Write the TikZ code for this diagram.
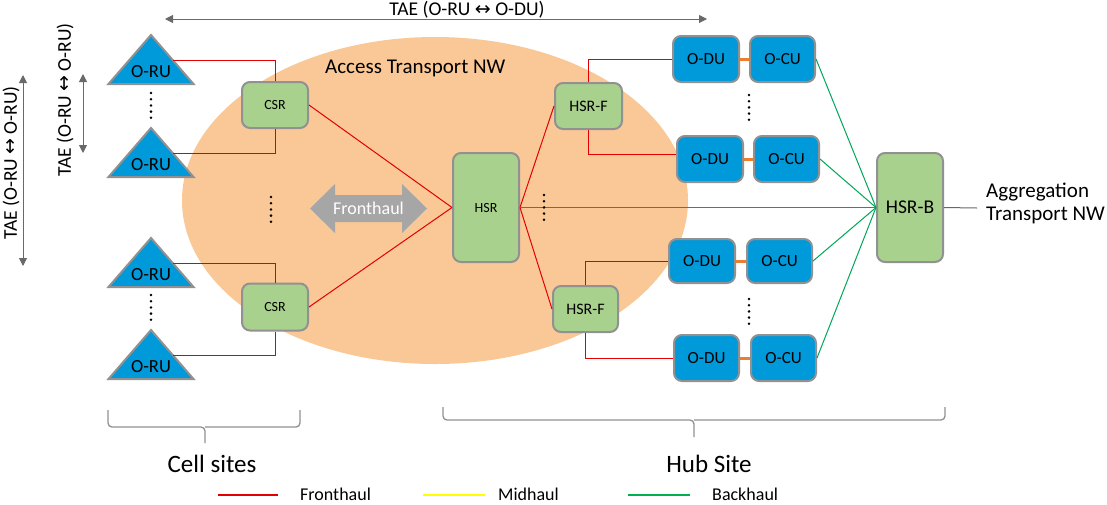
\documentclass[tikz,border=0pt]{standalone}
\usepackage{fontspec}
\setmainfont{Carlito}
\newfontfamily\symf{DejaVu Sans}
\usetikzlibrary{arrows.meta,calc}
\definecolor{oblue}{RGB}{0,153,218}
\definecolor{boxgreen}{RGB}{169,209,142}
\definecolor{bordergray}{RGB}{145,145,145}
\definecolor{peach}{RGB}{250,200,150}
\definecolor{fhred}{RGB}{228,0,0}
\definecolor{bhgreen}{RGB}{0,166,90}
\definecolor{mhorange}{RGB}{237,125,49}
\definecolor{arrgray}{RGB}{105,105,105}
\definecolor{bigarr}{RGB}{166,166,166}
\definecolor{legyellow}{RGB}{255,255,0}
\definecolor{leggreen}{RGB}{0,176,80}
\newcommand{\fs}[1]{\fontsize{#1}{#1}\selectfont}
\begin{document}
\begin{tikzpicture}[x=1pt,y=-1pt,
  box/.style 2 args={draw=bordergray, line width=2pt, rounded corners=8pt, fill=boxgreen,
    inner sep=0pt, minimum width=#1pt, minimum height=#2pt},
  bbox/.style 2 args={box={#1}{#2}, fill=oblue},
  tri/.style={draw=bordergray, line width=2pt, fill=oblue, line join=miter},
  oru/.style={font=\fs{18.5}, inner sep=0pt},
  fh/.style={draw=fhred, line width=1pt},
  bh/.style={draw=bhgreen, line width=1pt},
  mh/.style={draw=mhorange, line width=3pt},
  garr/.style={draw=arrgray, line width=1pt, {Triangle[length=8pt,width=8pt]}-{Triangle[length=8pt,width=8pt]}},
  brace/.style={draw=bordergray, line width=1.3pt, rounded corners=4pt},
  lbl/.style={inner sep=0pt}
]
\useasboundingbox[fill=white] (0,0) rectangle (1107,504);

% access transport ellipse
\fill[peach] (435,200.5) ellipse [x radius=253, y radius=163.5];
\node[lbl, font=\fs{21}, anchor=west] (acc) at (325,68) {Access Transport NW};

% top TAE arrow
\coordinate (ta1) at (165,19);
\coordinate (ta2) at (707,19);
\draw[garr] (ta1) -- (ta2);
\node[lbl, font=\fs{19.5}, anchor=base] (taetop) at (467,15) {TAE (O-RU {\symf\fs{19}↔} O-DU)};

% vertical TAE arrows
\coordinate (va1) at (23,75);
\coordinate (va2) at (23,266);
\draw[garr] (va1) -- (va2);
\node[lbl, font=\fs{19.5}, rotate=90] (taev1) at (11,163) {TAE (O-RU {\symf\fs{19}↔} O-RU)};
\coordinate (vb1) at (83,74);
\coordinate (vb2) at (83,153);
\draw[garr] (vb1) -- (vb2);
\node[lbl, font=\fs{19.5}, rotate=90] (taev2) at (65,100) {TAE (O-RU {\symf\fs{19}↔} O-RU)};

% O-RU triangles
\foreach \n/\ay in {1/35,2/128,3/238,4/330} {
  \path[tri] (151,\ay) -- ++(42.5,49) -- ++(-85,0) -- cycle;
  \node[oru] (oru\n) at (151,\ay+37) {O-RU};
  \coordinate (oru\n r) at (172.5,\ay+25);
}

% routers
\node[box={66}{46}, font=\fs{14}] (csr1) at (275,105) {CSR};
\node[box={66}{47}, font=\fs{14}] (csr2) at (275,307) {CSR};
\node[box={66}{109}, font=\fs{14}] (hsr) at (486,207.5) {HSR};
\node[box={67}{46}, font=\fs{16}] (hsrf1) at (588.5,106) {HSR-F};
\node[box={65}{46}, font=\fs{16}] (hsrf2) at (585.5,309) {HSR-F};
\node[box={66}{109}, font=\fs{19.5}] (hsrb) at (910,207.5) {HSR-B};

% O-DU / O-CU
\node[bbox={66}{46}, font=\fs{17}] (odu1) at (706,59) {O-DU};
\node[bbox={65}{46}, font=\fs{17}] (ocu1) at (782.5,59) {O-CU};
\node[bbox={66}{46}, font=\fs{17}] (odu2) at (710,159) {O-DU};
\node[bbox={65}{46}, font=\fs{17}] (ocu2) at (786.5,159) {O-CU};
\node[bbox={66}{44}, font=\fs{17}] (odu3) at (702,261) {O-DU};
\node[bbox={65}{44}, font=\fs{17}] (ocu3) at (779.5,261) {O-CU};
\node[bbox={65}{46}, font=\fs{17}] (odu4) at (706.5,358) {O-DU};
\node[bbox={65}{46}, font=\fs{17}] (ocu4) at (783.5,358) {O-CU};

% fronthaul big arrow
\path[fill=bigarr] (310,208.5) -- (335,184) -- (335,195) -- (402,195) -- (402,184)
  -- (427,208.5) -- (402,233) -- (402,222) -- (335,222) -- (335,233) -- cycle;
\node[lbl, font=\fs{18}, text=white] (fharr) at (368.5,208.5) {Fronthaul};

% fronthaul connectors
\draw[fh] (oru1r) -| (csr1);
\draw[fh] (oru2r) -| (csr1);
\draw[fh] (oru3r) -| (csr2);
\draw[fh] (oru4r) -| (csr2);
\draw[fh] (csr1.east) -- (hsr.west);
\draw[fh] (csr2.east) -- (hsr.west);
\draw[fh] (hsr.east) -- (hsrf1.west);
\draw[fh] (hsr.east) -- (hsrf2.west);
\draw[fh] (hsrf1) |- (odu1);
\draw[fh] (hsrf1) |- ([yshift=5pt]odu2.west);
\draw[fh] (hsrf2) |- (odu3);
\draw[fh] (hsrf2) |- (odu4);

% midhaul
\draw[mh] (odu1) -- (ocu1);
\draw[mh] (odu2) -- (ocu2);
\draw[mh] (odu3) -- (ocu3);
\draw[mh] (odu4) -- (ocu4);

% backhaul
\draw[bh] (hsr.east) -- (hsrb.west);
\draw[bh] (ocu1.east) -- (hsrb.west);
\draw[bh] (ocu2.east) -- (hsrb.west);
\draw[bh] (ocu3.east) -- (hsrb.west);
\draw[bh] (ocu4.east) -- (hsrb.west);

% aggregation
\coordinate (agg) at (977,208);
\draw[draw=arrgray, line width=1pt] (hsrb.east) -- (agg);
\node[lbl, font=\fs{21}, anchor=west, align=left] (aggtxt) at (986,203) {Aggregation\\[2pt]Transport NW};

% dots
\foreach \dx/\dy in {151/93, 151/295, 271/197, 544/195, 749/95, 749/299} {
  \foreach \k in {0,...,4} { \fill[black] (\dx,\dy+6.2*\k) circle (1.4); }
}

% braces
\draw[brace] (108,410) -- (108,427) -- (205,427) -- (205,443);
\draw[brace] (300,410) -- (300,427) -- (205,427);
\draw[brace] (443,407) -- (443,420) -- (694,420) -- (694,437);
\draw[brace] (945,407) -- (945,420) -- (694,420);
\node[lbl, font=\fs{25}] (cell) at (212,464) {Cell sites};
\node[lbl, font=\fs{25}] (hub) at (709,464) {Hub Site};

% legend
\coordinate (l1a) at (218,495); \coordinate (l1b) at (278,495);
\coordinate (l2a) at (423,495); \coordinate (l2b) at (485,495);
\coordinate (l3a) at (628,495); \coordinate (l3b) at (690,495);
\draw[draw=fhred, line width=2.5pt] (l1a) -- (l1b);
\draw[draw=legyellow, line width=2.5pt] (l2a) -- (l2b);
\draw[draw=leggreen, line width=2.5pt] (l3a) -- (l3b);
\node[lbl, font=\fs{18}, anchor=base west] (lg1) at (300,500) {Fronthaul};
\node[lbl, font=\fs{18}, anchor=base west] (lg2) at (498,500) {Midhaul};
\node[lbl, font=\fs{18}, anchor=base west] (lg3) at (712,500) {Backhaul};
\end{tikzpicture}
\end{document}
